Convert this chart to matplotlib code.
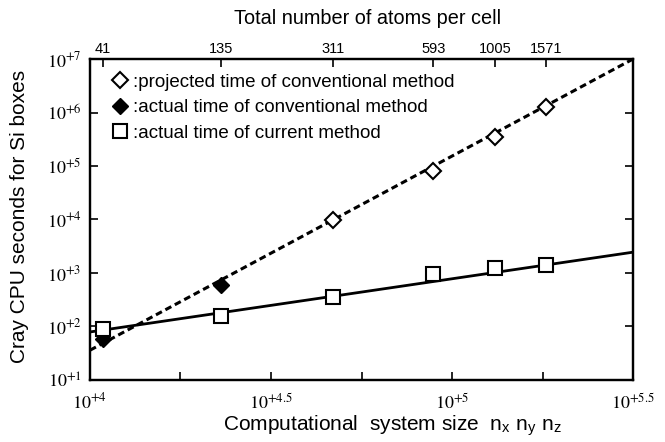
import matplotlib
matplotlib.use('Agg')
from matplotlib import pyplot as plt
from matplotlib.ticker import FixedLocator, NullFormatter, NullLocator

plt.rcParams['font.family'] = ['Liberation Sans', 'DejaVu Sans']
plt.rcParams['mathtext.fontset'] = 'stix'

# values
atoms = ['41', '135', '311', '593', '1005', '1571']
grid_size = [10860, 23000, 46900, 88700, 131500, 182000]
t_current = [90, 157, 356, 957, 1240, 1410]
actual_x = [10860, 23000]
t_actual_conv = [58, 597]
proj_x = [46900, 88700, 131500, 182000]
t_proj_conv = [9800, 81000, 347000, 1260000]
fit_x = [1e4, 10 ** 5.5]
fit_conv = [36, 1.0e7]
fit_current = [79, 2450]

fig = plt.figure(figsize=(6.65, 4.42), dpi=100)
ax = fig.add_axes([0.1353, 0.1403, 0.8167, 0.7262])
ax.set_xscale('log')
ax.set_yscale('log')

ax.plot(fit_x, fit_conv, color='black', lw=2.2, ls=(0, (2.2, 1.3)), zorder=2)
ax.plot(fit_x, fit_current, color='black', lw=2.0, zorder=2)
ax.plot(proj_x, t_proj_conv, ls='none', marker='D', ms=8, mfc='white', mec='black', mew=1.5,
        zorder=3, label=':projected time of conventional method')
ax.plot(actual_x, t_actual_conv, ls='none', marker='D', ms=8, mfc='black', mec='black',
        zorder=3, label=':actual time of conventional method')
ax.plot(grid_size, t_current, ls='none', marker='s', ms=10, mfc='white', mec='black', mew=1.5,
        zorder=3, label=':actual time of current method')

ax.set_xlim(1e4, 10 ** 5.5)
ax.set_ylim(10, 1e7)

# bottom axis
ax.xaxis.set_major_locator(FixedLocator([1e4, 10 ** 4.5, 1e5, 10 ** 5.5]))
ax.set_xticklabels(['$10^{+4}$', '$10^{+4.5}$', '$10^{+5}$', '$10^{+5.5}$'])
ax.xaxis.set_minor_locator(FixedLocator([10 ** 4.25, 10 ** 4.75, 10 ** 5.25]))
ax.xaxis.set_minor_formatter(NullFormatter())
ax.tick_params(axis='x', which='both', direction='in', length=6, width=1.2, top=False,
               labelsize=13, pad=9)

# left / right axis
ax.yaxis.set_major_locator(FixedLocator([10 ** k for k in range(1, 8)]))
ax.set_yticklabels(['$10^{+%d}$' % k for k in range(1, 8)])
ax.yaxis.set_minor_locator(NullLocator())
ax.tick_params(axis='y', which='both', direction='in', length=6, width=1.2, right=True,
               labelsize=13, pad=6)

for s in ax.spines.values():
    s.set_linewidth(1.6)

# top axis: atoms per cell
top = ax.twiny()
top.set_xscale('log')
top.set_xlim(ax.get_xlim())
top.xaxis.set_major_locator(FixedLocator(grid_size))
top.set_xticklabels(atoms)
top.xaxis.set_minor_locator(NullLocator())
top.tick_params(axis='x', direction='in', length=6, width=1.2, labelsize=10.5, pad=2)
for s in top.spines.values():
    s.set_linewidth(1.6)

ax.legend(loc='upper left', bbox_to_anchor=(0.02, 0.99), frameon=False, fontsize=13.5,
          handlelength=0.8, handletextpad=0.3, labelspacing=0.45, borderaxespad=0.2)

fig.text(0.553, 0.958, 'Total number of atoms per cell', ha='center', va='center', fontsize=14.3)
fig.text(0.59, 0.038, 'Computational  system size  n$_\\mathregular{x}$ n$_\\mathregular{y}$ n$_\\mathregular{z}$',
         ha='center', va='center', fontsize=15)
fig.text(0.03, 0.51, 'Cray CPU seconds for Si boxes', ha='center', va='center',
         rotation=90, fontsize=15)

fig.savefig('out.png', dpi=100)
